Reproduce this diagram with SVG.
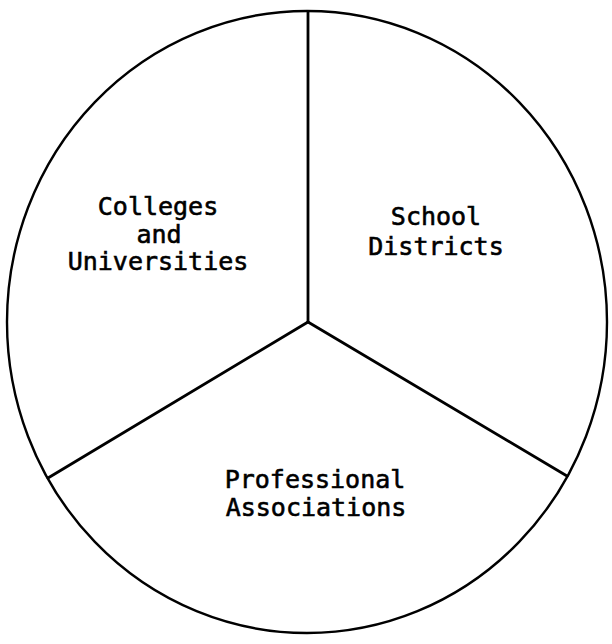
<svg xmlns="http://www.w3.org/2000/svg" width="612" height="644" viewBox="0 0 612 644">
<style>
.outline{fill:none;stroke:#000;stroke-width:2.4}
.div{fill:none;stroke:#000;stroke-width:2.8;stroke-linecap:round;stroke-linejoin:round}
.lbl{font-family:"DejaVu Sans Mono","Liberation Mono",monospace;font-size:25px;fill:#000;stroke:#000;stroke-width:0.6;text-anchor:middle}
</style>
<rect width="612" height="644" fill="#fff"/>
<g id="circle">
<ellipse class="outline" cx="307" cy="322" rx="300" ry="311"/>
</g>
<g id="connectors">
<line class="div" x1="308" y1="12" x2="308" y2="322"/>
<line class="div" x1="308" y1="322" x2="48" y2="478"/>
<line class="div" x1="308" y1="322" x2="567" y2="476"/>
</g>
<g id="colleges">
<text class="lbl" x="158" y="215">Colleges</text>
<text class="lbl" x="159" y="243">and</text>
<text class="lbl" x="158" y="270">Universities</text>
</g>
<g id="school-districts">
<text class="lbl" x="436" y="225">School</text>
<text class="lbl" x="436" y="255">Districts</text>
</g>
<g id="professional-associations">
<text class="lbl" x="315" y="488">Professional</text>
<text class="lbl" x="316" y="516">Associations</text>
</g>
</svg>
